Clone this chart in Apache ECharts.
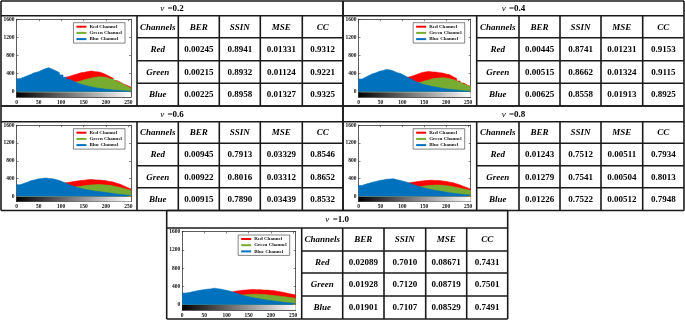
<!DOCTYPE html>
<html>
<head>
<meta charset="utf-8">
<script src="https://cdn.jsdelivr.net/npm/echarts@6/dist/echarts.min.js"></script>
<style>
  html, body { margin: 0; padding: 0; background: #fff; }
  #main { width: 685px; height: 322px; }
</style>
</head>
<body>
<div id="main"></div>
<script>
// histogram bins (left edges, width 8)
const binEdges = [0, 8, 16, 24, 32, 40, 48, 56, 64, 72, 80, 88, 96, 104, 112, 120,
  128, 136, 144, 152, 160, 168, 176, 184, 192, 200, 208, 216, 224, 232, 240, 248];
const xTicks = [0, 50, 100, 150, 200, 250];
const yTicks = [0, 400, 800, 1200, 1600];
const levels = ['0.2', '0.4', '0.6', '0.8', '1.0'];
const channels = ['Red', 'Green', 'Blue'];
const metrics = ['BER', 'SSIN', 'MSE', 'CC'];
const seriesNames = ['Red Channel', 'Green Channel', 'Blue Channel'];

// v = 0.2
const red02 = [20, 40, 70, 100, 130, 160, 190, 215, 240, 260, 280, 295, 310, 322, 345, 372,
  392, 418, 428, 446, 458, 442, 438, 412, 378, 338, 298, 248, 212, 168, 138, 98];
const green02 = [10, 25, 45, 65, 85, 105, 125, 140, 155, 165, 175, 185, 195, 200, 205, 210,
  222, 238, 266, 284, 306, 318, 332, 328, 320, 292, 272, 232, 202, 158, 122, 80];
const blue02 = [290, 318, 352, 383, 418, 438, 472, 505, 530, 498, 462, 422, 372, 318, 272, 228,
  196, 168, 146, 124, 106, 90, 78, 66, 55, 48, 40, 33, 28, 22, 18, 14];
// v = 0.4
const red04 = [20, 45, 75, 105, 140, 170, 200, 225, 250, 270, 288, 300, 310, 318, 338, 362,
  392, 422, 436, 448, 438, 434, 422, 412, 390, 374, 332, 292, 238, 192, 148, 115];
const green04 = [10, 25, 45, 65, 85, 105, 125, 140, 155, 165, 175, 182, 188, 192, 195, 198,
  202, 214, 242, 260, 286, 296, 306, 308, 302, 288, 270, 238, 212, 174, 142, 105];
const blue04 = [280, 322, 358, 396, 418, 452, 468, 492, 478, 456, 422, 402, 362, 322, 283, 242,
  204, 176, 154, 136, 118, 104, 90, 76, 64, 55, 46, 38, 30, 24, 18, 14];
// v = 0.6
const red06 = [30, 55, 85, 115, 145, 175, 200, 225, 245, 262, 277, 290, 300, 308, 318, 334,
  344, 356, 364, 376, 378, 370, 368, 360, 352, 336, 322, 296, 270, 236, 198, 165];
const green06 = [15, 30, 50, 70, 90, 110, 128, 145, 160, 172, 182, 190, 197, 202, 206, 210,
  218, 228, 240, 250, 258, 264, 266, 262, 256, 248, 236, 218, 200, 180, 158, 135];
const blue06 = [262, 292, 318, 352, 368, 392, 400, 412, 404, 398, 378, 356, 324, 292, 254, 226,
  200, 180, 160, 145, 130, 118, 108, 98, 88, 78, 66, 55, 45, 36, 28, 22];
// v = 0.8
const red08 = [35, 60, 90, 120, 150, 175, 200, 220, 240, 255, 268, 280, 290, 298, 310, 322,
  336, 344, 354, 360, 364, 356, 356, 344, 336, 320, 306, 280, 256, 224, 196, 160];
const green08 = [20, 38, 58, 78, 98, 115, 132, 148, 160, 172, 182, 190, 196, 200, 205, 210,
  214, 222, 235, 244, 250, 254, 254, 248, 240, 232, 218, 200, 185, 168, 150, 132];
const blue08 = [246, 272, 294, 320, 334, 356, 368, 384, 390, 396, 372, 356, 336, 314, 286, 258,
  228, 205, 185, 165, 150, 135, 120, 108, 95, 84, 72, 62, 52, 43, 36, 30];
// v = 1.0
const red10 = [40, 65, 95, 125, 150, 172, 192, 210, 225, 238, 250, 260, 270, 278, 296, 304,
  316, 322, 330, 334, 328, 328, 320, 320, 310, 306, 290, 280, 262, 244, 228, 212];
const green10 = [25, 45, 65, 85, 105, 122, 138, 152, 165, 176, 185, 192, 198, 202, 206, 210,
  214, 218, 225, 230, 230, 226, 222, 216, 208, 200, 192, 182, 172, 160, 150, 138];
const blue10 = [254, 266, 286, 300, 316, 326, 340, 346, 362, 350, 340, 320, 306, 284, 262, 232,
  205, 185, 168, 154, 140, 125, 114, 100, 90, 80, 70, 60, 50, 42, 35, 28];

// table values (rows: Red, Green, Blue)
const ber02 = ['0.00245', '0.00215', '0.00225'];
const ssin02 = ['0.8941', '0.8932', '0.8958'];
const mse02 = ['0.01331', '0.01124', '0.01327'];
const cc02 = ['0.9312', '0.9221', '0.9325'];
const ber04 = ['0.00445', '0.00515', '0.00625'];
const ssin04 = ['0.8741', '0.8662', '0.8558'];
const mse04 = ['0.01231', '0.01324', '0.01913'];
const cc04 = ['0.9153', '0.9115', '0.8925'];
const ber06 = ['0.00945', '0.00922', '0.00915'];
const ssin06 = ['0.7913', '0.8016', '0.7890'];
const mse06 = ['0.03329', '0.03312', '0.03439'];
const cc06 = ['0.8546', '0.8652', '0.8532'];
const ber08 = ['0.01243', '0.01279', '0.01226'];
const ssin08 = ['0.7512', '0.7541', '0.7522'];
const mse08 = ['0.00511', '0.00504', '0.00512'];
const cc08 = ['0.7934', '0.8013', '0.7948'];
const ber10 = ['0.02089', '0.01928', '0.01901'];
const ssin10 = ['0.7010', '0.7120', '0.7107'];
const mse10 = ['0.08671', '0.08719', '0.08529'];
const cc10 = ['0.7431', '0.7501', '0.7491'];

const hists = [[red02, green02, blue02], [red04, green04, blue04], [red06, green06, blue06],
  [red08, green08, blue08], [red10, green10, blue10]];
const tables = [[ber02, ssin02, mse02, cc02], [ber04, ssin04, mse04, cc04], [ber06, ssin06, mse06, cc06],
  [ber08, ssin08, mse08, cc08], [ber10, ssin10, mse10, cc10]];

// block layout: column edges (xs) and row edges (ys)
const blocks = [
  { xs: [1, 137, 178.3, 219.3, 260.3, 302.3, 343], ys: [1, 15.7, 37.7, 60.7, 83.3, 106] },
  { xs: [343, 476.7, 519, 560, 601, 642.7, 684], ys: [1, 15.7, 37.7, 60.7, 83.3, 106] },
  { xs: [1, 137, 178.3, 219.3, 260.3, 302.3, 343], ys: [106, 121.7, 143.3, 165.7, 187.7, 210.5] },
  { xs: [343, 476.7, 519, 560, 601, 642.7, 684], ys: [106, 121.7, 143.3, 165.7, 187.7, 210.5] },
  { xs: [166.7, 301.7, 342.7, 384, 425.7, 466.7, 507.7], ys: [210.5, 228, 251, 273, 296, 319] }
];

const serif = '"Liberation Serif", "Times New Roman", serif';
const colors = ['#ff0000', '#77ac30', '#0072bd'];
const xMax = binEdges[binEdges.length - 1] + 8;
const yMin = -115;

function stepData(vals) {
  const d = vals.map((v, i) => [binEdges[i], v]);
  d.push([xMax, vals[vals.length - 1]]);
  return d;
}

const grid = [], xAxis = [], yAxis = [], series = [], legend = [], graphics = [];
const lineCol = '#1a1a1a';

blocks.forEach((b, p) => {
  const xs = b.xs, ys = b.ys;
  // table lines
  const L = (x1, y1, x2, y2) => graphics.push({
    type: 'line', shape: { x1, y1, x2, y2 }, style: { stroke: lineCol, lineWidth: 1.6 }, silent: true
  });
  L(xs[0], ys[0], xs[6], ys[0]);
  L(xs[0], ys[1], xs[6], ys[1]);
  L(xs[0], ys[5], xs[6], ys[5]);
  for (let r = 2; r < 5; r++) L(xs[1], ys[r], xs[6], ys[r]);
  L(xs[0], ys[0], xs[0], ys[5]);
  L(xs[6], ys[0], xs[6], ys[5]);
  for (let c = 1; c < 6; c++) L(xs[c], ys[1], xs[c], ys[5]);

  // title
  graphics.push({
    type: 'text', silent: true,
    style: {
      text: '{i|v} {b|=' + levels[p] + '}', x: (xs[0] + xs[6]) / 2, y: (ys[0] + ys[1]) / 2 + 0.5,
      align: 'center', verticalAlign: 'middle',
      rich: {
        i: { fontStyle: 'italic', fontSize: 9, fontFamily: serif, fill: '#000' },
        b: { fontWeight: 'bold', fontSize: 9, fontFamily: serif, fill: '#000' }
      }
    }
  });
  const T = (txt, c, r, italic) => graphics.push({
    type: 'text', silent: true,
    style: {
      text: txt, x: (xs[c] + xs[c + 1]) / 2, y: (ys[r] + ys[r + 1]) / 2 + 0.5,
      align: 'center', verticalAlign: 'middle',
      fontSize: 9, fontWeight: 'bold', fontStyle: italic ? 'italic' : 'normal',
      fontFamily: serif, fill: '#000'
    }
  });
  T('Channels', 1, 1, true);
  metrics.forEach((m, k) => T(m, k + 2, 1, true));
  channels.forEach((ch, r) => {
    T(ch, 1, r + 2, true);
    tables[p].forEach((col, k) => T(col[r], k + 2, r + 2, false));
  });

  // histogram grid
  const gl = xs[0] + 15.5, gr = xs[1] - 6, gt = ys[1] + 3.5, gb = ys[5] - 9;
  grid.push({ left: gl, top: gt, width: gr - gl, height: gb - gt, show: true, backgroundColor: '#fff', borderWidth: 0 });
  const axLine = { show: true, onZero: false, lineStyle: { color: '#333', width: 0.8 } };
  const tick = (vals) => ({ show: true, inside: true, length: 2, customValues: vals, lineStyle: { color: '#333', width: 0.6 } });
  const lab = { fontSize: 5.5, fontFamily: serif, fontWeight: 'bold', color: '#111', formatter: (v) => String(v) };
  xAxis.push({
    gridIndex: p, type: 'value', min: 0, max: xMax, position: 'bottom',
    axisLine: axLine, axisTick: tick(xTicks),
    axisLabel: Object.assign({ customValues: xTicks, margin: 2.5 }, lab),
    splitLine: { show: false }
  });
  xAxis.push({
    gridIndex: p, type: 'value', min: 0, max: xMax, position: 'top',
    axisLine: axLine, axisTick: tick(xTicks), axisLabel: { show: false }, splitLine: { show: false }
  });
  yAxis.push({
    gridIndex: p, type: 'value', min: yMin, max: 1600, position: 'left',
    axisLine: axLine, axisTick: tick(yTicks),
    axisLabel: Object.assign({ customValues: yTicks, margin: 2 }, lab),
    splitLine: { show: false }
  });
  yAxis.push({
    gridIndex: p, type: 'value', min: yMin, max: 1600, position: 'right',
    axisLine: axLine, axisTick: tick(yTicks), axisLabel: { show: false }, splitLine: { show: false }
  });

  hists[p].forEach((vals, k) => {
    const s = {
      type: 'line', name: seriesNames[k], xAxisIndex: 2 * p, yAxisIndex: 2 * p,
      data: stepData(vals), step: 'end', symbol: 'none', silent: true, animation: false,
      z: 2 + k,
      lineStyle: { width: 0.6, color: colors[k] }, itemStyle: { color: colors[k] },
      areaStyle: { color: colors[k], opacity: 1 }
    };
    if (k === 0) {
      s.markArea = {
        silent: true, label: { show: false },
        itemStyle: {
          color: new echarts.graphic.LinearGradient(0, 0, 1, 0, [
            { offset: 0, color: '#000' }, { offset: 1, color: '#fff' }])
        },
        data: [[{ xAxis: 0, yAxis: yMin }, { xAxis: xMax, yAxis: -8 }]]
      };
    }
    series.push(s);
  });

  legend.push({
    orient: 'vertical', right: 685 - (gr - 6), top: gt + 3.5, z: 10,
    data: seriesNames, icon: 'rect', itemWidth: 10, itemHeight: 2, itemGap: 1.2,
    padding: [1.5, 3, 1.5, 3], borderColor: '#333', borderWidth: 0.6, backgroundColor: '#fff',
    selectedMode: false,
    textStyle: { fontSize: 5, fontFamily: serif, fontWeight: 'bold', color: '#111', padding: [0, 0, 0, -2] }
  });
});

const chart = echarts.init(document.getElementById('main'), null, { renderer: 'canvas' });
chart.setOption({
  animation: false,
  backgroundColor: '#fff',
  grid, xAxis, yAxis, series, legend,
  graphic: { elements: graphics }
});
</script>
</body>
</html>
